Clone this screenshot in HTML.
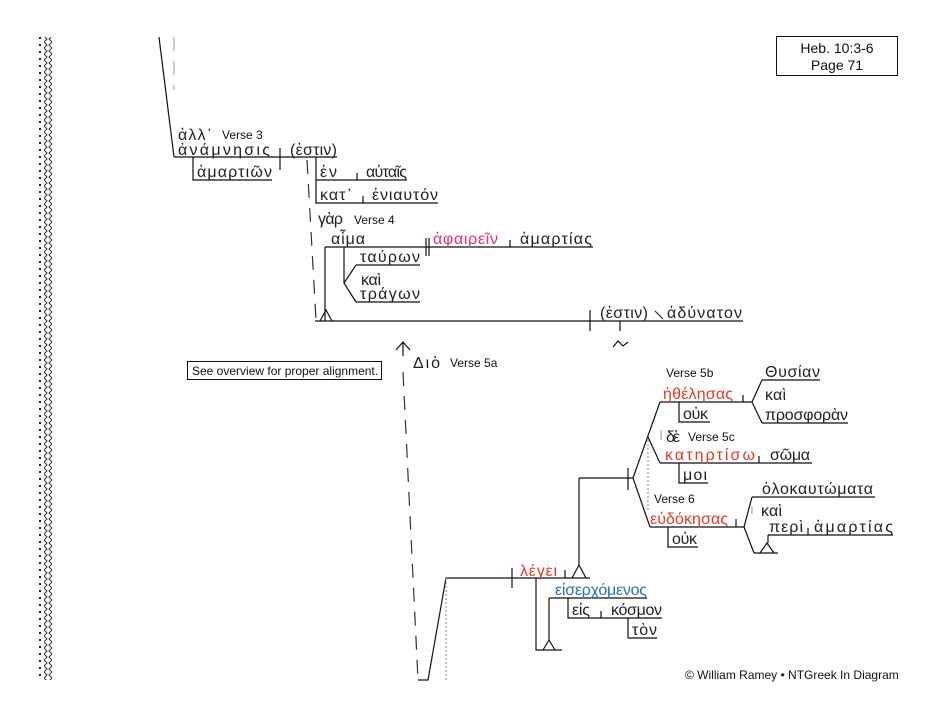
<!DOCTYPE html>
<html><head><meta charset="utf-8"><style>
html,body{margin:0;padding:0;background:#fff;width:933px;height:714px;overflow:hidden}
svg{display:block}
.g{font-family:"Liberation Sans","DejaVu Sans",sans-serif;font-size:16px;fill:#222}
.s{font-family:"Liberation Sans",sans-serif;font-size:12px;fill:#111}
.r{fill:#e03a2a}.p{fill:#e0306a}.b{fill:#2a6fb0}
line,polyline,path{stroke:#111;stroke-width:1.2;fill:none}
.d{stroke:#333;stroke-dasharray:14 10}
.lg{stroke:#aaa;stroke-dasharray:14 10}
.dt{stroke:#888;stroke-dasharray:2 2;stroke-width:1}
</style></head><body>
<svg width="933" height="714" viewBox="0 0 933 714">
<defs><pattern id="dm" width="8" height="6" patternUnits="userSpaceOnUse"><path d="M4 0 L7 3 L4 6 L1 3 Z" style="stroke:#333;stroke-width:1"/></pattern></defs>
<line x1="40" y1="37" x2="40" y2="680" style="stroke:#222;stroke-width:2;stroke-dasharray:2 5"/>
<rect x="44" y="37" width="8" height="643" fill="url(#dm)"/>

<rect x="776.5" y="36.5" width="121" height="39" style="fill:none;stroke:#111"/>
<text class="s" x="837" y="53" text-anchor="middle" style="font-size:14px">Heb. 10:3-6</text>
<text class="s" x="837" y="70" text-anchor="middle" style="font-size:14px">Page 71</text>

<!-- verse 3 -->
<line x1="159" y1="37" x2="174" y2="157"/>
<line class="lg" x1="174" y1="37" x2="174" y2="90"/>
<text class="g" x="178" y="140" textLength="34">ἀλλ᾽</text><text class="s" x="222" y="139">Verse 3</text>
<line x1="174" y1="157" x2="337" y2="157"/>
<text class="g" x="178" y="155" textLength="92">ἀνάμνησις</text>
<line x1="280" y1="148" x2="280" y2="170"/>
<text class="g" x="290" y="155" textLength="47">(ἐστιν)</text>
<polyline points="193,157 193,180 272,180"/>
<text class="g" x="197" y="177" textLength="75">ἁμαρτιῶν</text>
<polyline points="316,157 316,203 438,203"/>
<line x1="316" y1="180" x2="407" y2="180"/>
<text class="g" x="320" y="177" textLength="17">ἐν</text><line x1="357" y1="173" x2="357" y2="180"/><text class="g" x="366" y="177" textLength="41">αὐταῖς</text>
<text class="g" x="320" y="200" textLength="32">κατ᾽</text><line x1="363" y1="196" x2="363" y2="203"/><text class="g" x="372" y="200" textLength="66">ἐνιαυτόν</text>
<line class="d" x1="307" y1="160" x2="316" y2="320"/>

<!-- verse 4 -->
<text class="g" x="318" y="224" textLength="25">γὰρ</text><text class="s" x="354" y="224">Verse 4</text>
<text class="g" x="331" y="244" textLength="34">αἷμα</text>
<line x1="325" y1="247" x2="593" y2="247"/>
<line x1="426" y1="238" x2="426" y2="256"/><line x1="429" y1="238" x2="429" y2="256"/>
<text class="g p" x="433" y="244" textLength="65">ἀφαιρεῖν</text>
<line x1="510" y1="240" x2="510" y2="247"/>
<text class="g" x="520" y="244" textLength="72">ἁμαρτίας</text>
<line x1="325" y1="247" x2="325" y2="321"/>
<polyline points="320,321 326,310 332,321"/>
<line x1="344" y1="247" x2="344" y2="283"/>
<polyline points="356,265 344,283 356,302"/>
<line x1="356" y1="265" x2="420" y2="265"/><text class="g" x="360" y="262" textLength="60">ταύρων</text>
<text class="g" x="361" y="285" textLength="20">καὶ</text>
<line x1="356" y1="302" x2="420" y2="302"/><text class="g" x="360" y="299" textLength="60">τράγων</text>
<line x1="315" y1="321" x2="743" y2="321"/>
<line x1="590" y1="310" x2="590" y2="331"/>
<text class="g" x="600" y="318" textLength="48">(ἐστιν)</text>
<line x1="655" y1="311" x2="663" y2="319" style="stroke-width:1"/>
<text class="g" x="667" y="318" textLength="75">ἀδύνατον</text>
<line x1="620" y1="321" x2="620" y2="331"/>
<polyline points="613,347 618,341 623,346 628,342"/>

<rect x="187.5" y="361.5" width="194" height="18" style="fill:none;stroke:#111"/>
<text class="s" x="192" y="375">See overview for proper alignment.</text>

<!-- verse 5a -->
<polyline points="396,350 403,342 410,350"/><line x1="403" y1="342" x2="403" y2="356"/>
<text class="g" x="413" y="368" textLength="27">Διὸ</text><text class="s" x="450" y="367">Verse 5a</text>
<line class="d" x1="403" y1="372" x2="418" y2="680"/>
<polyline points="418,680 428,680 446,578 590,578"/>
<line class="dt" x1="446" y1="578" x2="446" y2="680"/>
<line x1="512" y1="568" x2="512" y2="588"/>
<text class="g r" x="520" y="576" textLength="37">λέγει</text>
<line x1="565" y1="570" x2="565" y2="578"/>
<polyline points="572,578 579,565 586,578"/>
<line x1="579" y1="565" x2="579" y2="478"/>
<polyline points="536,578 536,650 562,650"/>
<polyline points="543,650 549,640 555,650"/>
<line x1="549" y1="640" x2="549" y2="598"/>
<line x1="549" y1="598" x2="647" y2="598"/>
<text class="g b" x="555" y="595" textLength="92">εἰσερχόμενος</text>
<polyline points="568,598 568,618 662,618"/>
<text class="g" x="572" y="615" textLength="18">εἰς</text><line x1="601" y1="611" x2="601" y2="618"/><text class="g" x="611" y="615" textLength="51">κόσμον</text>
<polyline points="628,618 628,638 657,638"/>
<text class="g" x="632" y="635" textLength="25">τὸν</text>

<!-- right branch -->
<line x1="579" y1="478" x2="633" y2="478"/>
<line x1="628" y1="468" x2="628" y2="490"/>
<polyline points="660,402 633,478 650,527"/>
<line x1="648" y1="437" x2="660" y2="463"/>
<line class="dt" x1="648" y1="440" x2="648" y2="512"/>
<text class="s" x="666" y="377">Verse 5b</text>
<line x1="660" y1="402" x2="752" y2="402"/>
<text class="g r" x="663" y="399" textLength="70">ἠθέλησας</text>
<line x1="743" y1="395" x2="743" y2="402"/>
<polyline points="762,380 752,402 762,423"/>
<line x1="762" y1="380" x2="820" y2="380"/><text class="g" x="765" y="377" textLength="55">Θυσίαν</text>
<text class="g" x="765" y="400" textLength="21">καὶ</text>
<line x1="762" y1="423" x2="848" y2="423"/><text class="g" x="765" y="420" textLength="83">προσφορὰν</text>
<polyline points="679,402 679,422 710,422"/><text class="g" x="683" y="419" textLength="25">οὐκ</text>

<line x1="661" y1="430" x2="661" y2="440" style="stroke:#aaa"/>
<text class="g" x="666" y="442" textLength="14">δὲ</text><text class="s" x="688" y="441">Verse 5c</text>
<line x1="660" y1="463" x2="812" y2="463"/>
<text class="g r" x="665" y="460" textLength="90">κατηρτίσω</text>
<line x1="759" y1="456" x2="759" y2="463"/>
<text class="g" x="770" y="460" textLength="40">σῶμα</text>
<polyline points="679,463 679,483 708,483"/><text class="g" x="683" y="480" textLength="24">μοι</text>

<text class="s" x="654" y="503">Verse 6</text>
<line x1="650" y1="527" x2="744" y2="527"/>
<text class="g r" x="650" y="524" textLength="78">εὐδόκησας</text>
<line x1="736" y1="519" x2="736" y2="527"/>
<polyline points="752,497 744,527 754,553"/>
<line x1="752" y1="497" x2="875" y2="497"/><text class="g" x="762" y="494" textLength="111">ὁλοκαυτώματα</text>
<line x1="752" y1="506" x2="752" y2="514" style="stroke:#aaa"/>
<text class="g" x="761" y="516" textLength="21">καὶ</text>
<line x1="768" y1="535" x2="893" y2="535"/>
<text class="g" x="769" y="532" textLength="34">περὶ</text><line x1="808" y1="528" x2="808" y2="535"/><text class="g" x="814" y="532" textLength="79">ἁμαρτίας</text>
<line x1="768" y1="535" x2="768" y2="543"/>
<polyline points="760,553 767,543 774,553"/>
<line x1="754" y1="553" x2="778" y2="553"/>
<polyline points="668,527 668,547 698,547"/><text class="g" x="672" y="544" textLength="25">οὐκ</text>

<text class="s" x="685" y="679">© William Ramey • NTGreek In Diagram</text>
</svg>
</body></html>
